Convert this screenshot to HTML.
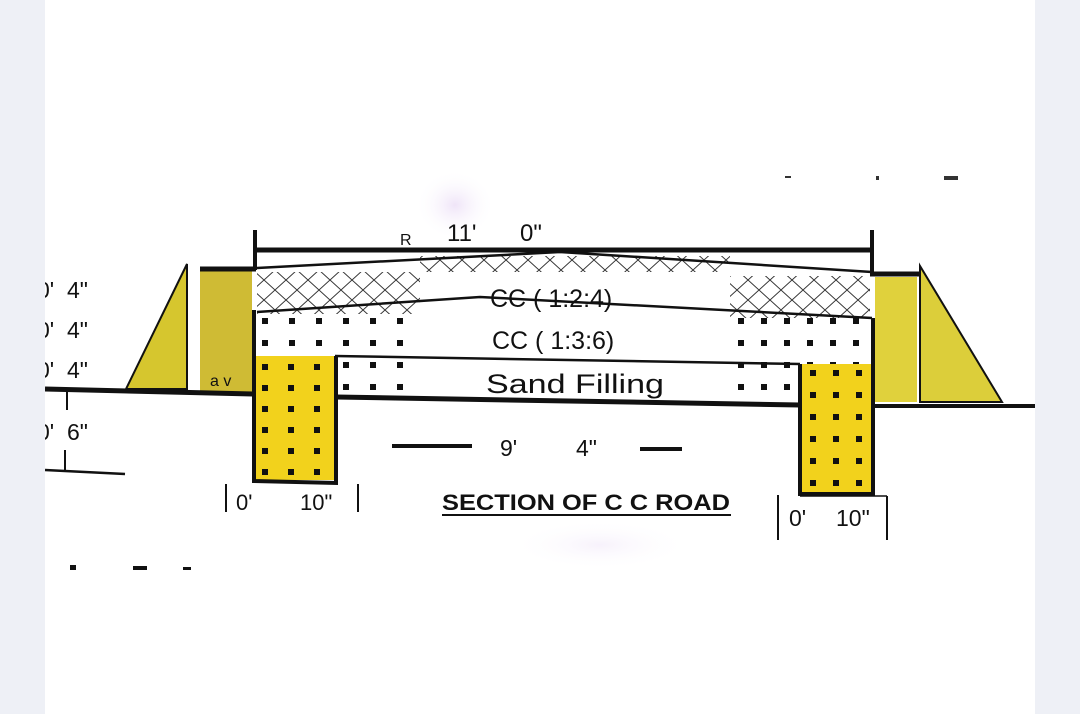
<!DOCTYPE html>
<html><head><style>
html,body{margin:0;padding:0;background:#fff}
svg{display:block}
text{font-family:"Liberation Sans",Arial,sans-serif;fill:#111}
</style></head><body>
<svg width="1080" height="714" viewBox="0 0 1080 714" xmlns="http://www.w3.org/2000/svg">
<defs>
<pattern id="hx" width="22" height="20" patternUnits="userSpaceOnUse">
<path d="M0,0 L22,20 M22,0 L0,20" stroke="#333" stroke-width="1"/>
</pattern>
<pattern id="dt" width="27" height="22" patternUnits="userSpaceOnUse" x="262" y="318">
<rect x="0" y="0" width="6" height="6" fill="#111"/>
</pattern>
<pattern id="dt2" width="23" height="22" patternUnits="userSpaceOnUse" x="738" y="318">
<rect x="0" y="0" width="6" height="6" fill="#111"/>
</pattern>
<pattern id="dy" width="26" height="21" patternUnits="userSpaceOnUse" x="262" y="364">
<rect x="0" y="0" width="6" height="6" fill="#111"/>
</pattern>
<pattern id="dy2" width="23" height="22" patternUnits="userSpaceOnUse" x="810" y="370">
<rect x="0" y="0" width="6" height="6" fill="#111"/>
</pattern>
<radialGradient id="pk" cx="0.5" cy="0.5" r="0.5">
<stop offset="0" stop-color="#efe4f8"/><stop offset="1" stop-color="#fff" stop-opacity="0"/>
</radialGradient>
</defs>
<rect x="0" y="0" width="1080" height="714" fill="#fff"/>
<ellipse cx="455" cy="205" rx="40" ry="35" fill="url(#pk)"/>
<ellipse cx="600" cy="545" rx="90" ry="25" fill="url(#pk)" opacity="0.5"/>

<rect x="257" y="272" width="163" height="42" fill="url(#hx)"/>
<polygon points="420,256 730,256 730,272 420,272" fill="url(#hx)"/>
<rect x="730" y="276" width="140" height="42" fill="url(#hx)"/>

<rect x="257" y="316" width="150" height="78" fill="url(#dt)"/>
<rect x="736" y="318" width="134" height="82" fill="url(#dt2)"/>
<rect x="340" y="358" width="70" height="38" fill="#fff"/>
<rect x="340" y="358" width="70" height="38" fill="url(#dt)"/>

<line x1="255" y1="250" x2="872" y2="250" stroke="#111" stroke-width="5"/>
<line x1="255" y1="230" x2="255" y2="270" stroke="#111" stroke-width="4"/>
<line x1="872" y1="230" x2="872" y2="272" stroke="#111" stroke-width="4"/>
<text x="447" y="241" font-size="24">11'</text>
<text x="520" y="241" font-size="24">0"</text>
<text x="400" y="245" font-size="16">R</text>

<polyline points="257,268 560,252 872,272" fill="none" stroke="#111" stroke-width="2.5"/>
<polyline points="257,312 480,297 872,318" fill="none" stroke="#111" stroke-width="2.5"/>
<line x1="335" y1="356" x2="800" y2="364" stroke="#111" stroke-width="2.5"/>

<polygon points="187,264 187,389 126,389" fill="#d6c62e" stroke="#111" stroke-width="2"/>
<rect x="200" y="271" width="52" height="121" fill="#cfbb34"/>
<line x1="200" y1="269" x2="256" y2="269" stroke="#111" stroke-width="5"/>
<text x="210" y="386" font-size="16" fill="#222">a v</text>
<polyline points="45,389 253,394" fill="none" stroke="#111" stroke-width="5"/>
<rect x="254" y="356" width="80" height="124" fill="#f2d21c"/>
<rect x="254" y="356" width="80" height="124" fill="url(#dy)"/>
<polyline points="254,310 254,481 336,483 336,356" fill="none" stroke="#111" stroke-width="4"/>
<line x1="336" y1="397" x2="800" y2="405" stroke="#111" stroke-width="5"/>

<rect x="802" y="364" width="70" height="130" fill="#f2d21c"/>
<rect x="802" y="364" width="70" height="130" fill="url(#dy2)"/>
<polyline points="800,364 800,494 873,494 873,318" fill="none" stroke="#111" stroke-width="4"/>
<rect x="875" y="277" width="42" height="125" fill="#e0d13c"/>
<line x1="870" y1="274" x2="919" y2="274" stroke="#111" stroke-width="5"/>
<polygon points="920,266 920,402 1002,402" fill="#dcce3a" stroke="#111" stroke-width="2"/>
<line x1="873" y1="406" x2="1035" y2="406" stroke="#111" stroke-width="4"/>

<text x="490" y="307" font-size="25">CC ( 1:2:4)</text>
<text x="492" y="349" font-size="25">CC ( 1:3:6)</text>
<text x="486" y="393" font-size="27" textLength="178" lengthAdjust="spacingAndGlyphs">Sand Filling</text>
<line x1="392" y1="446" x2="472" y2="446" stroke="#111" stroke-width="4"/>
<text x="500" y="456" font-size="23">9'</text>
<text x="576" y="456" font-size="23">4"</text>
<line x1="640" y1="449" x2="682" y2="449" stroke="#111" stroke-width="4"/>
<text x="442" y="510" font-size="22" font-weight="bold" textLength="288" lengthAdjust="spacingAndGlyphs">SECTION OF C C ROAD</text>
<line x1="442" y1="515" x2="731" y2="515" stroke="#111" stroke-width="2"/>

<line x1="226" y1="484" x2="226" y2="512" stroke="#111" stroke-width="2"/>
<text x="236" y="510" font-size="22">0'</text>
<text x="300" y="510" font-size="22">10"</text>
<line x1="358" y1="484" x2="358" y2="512" stroke="#111" stroke-width="2"/>
<line x1="778" y1="495" x2="778" y2="540" stroke="#111" stroke-width="2"/>
<line x1="800" y1="496" x2="887" y2="496" stroke="#111" stroke-width="1.5"/>
<line x1="887" y1="496" x2="887" y2="540" stroke="#111" stroke-width="2"/>
<text x="789" y="526" font-size="23">0'</text>
<text x="836" y="526" font-size="23">10"</text>

<text x="37" y="298" font-size="23">0'&#160;&#160;4"</text>
<text x="37" y="338" font-size="23">0'&#160;&#160;4"</text>
<text x="37" y="378" font-size="23">0'&#160;&#160;4"</text>
<text x="37" y="440" font-size="23">0'&#160;&#160;6"</text>
<line x1="67" y1="392" x2="67" y2="410" stroke="#111" stroke-width="2"/>
<line x1="65" y1="450" x2="65" y2="470" stroke="#111" stroke-width="2"/>
<line x1="45" y1="470" x2="125" y2="474" stroke="#111" stroke-width="2.5"/>
<rect x="0" y="0" width="45" height="714" fill="#eef0f6"/>
<rect x="1035" y="0" width="45" height="714" fill="#eef0f6"/>
<rect x="70" y="565" width="6" height="5" fill="#111"/>
<rect x="133" y="566" width="14" height="4" fill="#111"/>
<rect x="183" y="567" width="8" height="3" fill="#111"/>
<rect x="785" y="176" width="6" height="2" fill="#333"/>
<rect x="876" y="176" width="3" height="4" fill="#333"/>
<rect x="944" y="176" width="14" height="4" fill="#333"/>
</svg>
</body></html>
